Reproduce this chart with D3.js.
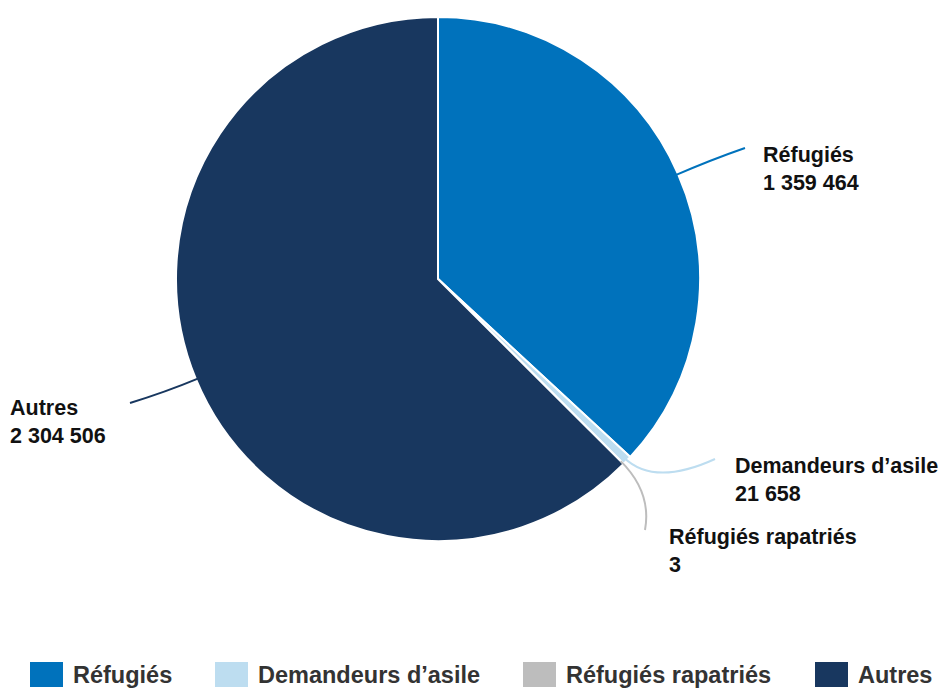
<html>
<head>
  <meta charset="utf-8">
  <script src="https://d3js.org/d3.v7.min.js"></script>
  <style>
    body { margin: 0; background: #fff; }
    text { font-family: "Liberation Sans", Arial, sans-serif; font-weight: bold; }
  </style>
</head>
<body>
<svg id="chart" width="946" height="690"></svg>
<script>
  // data
  var categories = ['Réfugiés', 'Demandeurs d\u2019asile', 'Réfugiés rapatriés', 'Autres'];
  var values = [1359464, 21658, 3, 2304506];
  var valueLabels = ['1 359 464', '21 658', '3', '2 304 506'];
  var colors = ['#0072BC', '#BDDDF0', '#BDBDBD', '#18375F'];

  // label placement (text anchor + end of leader line)
  var labelPos = [[763, 162], [735, 473], [669, 544], [10, 415]];
  var lineEnd = [[745, 148], [715, 459], [645, 530], [130, 403]];
  var bend = [35, 38, 40, 34];

  var svg = d3.select('#chart');
  var cx = 438, cy = 279, r = 262;

  var pie = d3.pie().sort(null).value(function(d) { return d; });
  var arcs = pie(values);
  var arc = d3.arc().innerRadius(0).outerRadius(r);

  var g = svg.append('g').attr('transform', 'translate(' + cx + ',' + cy + ')');

  g.selectAll('path.slice')
    .data(arcs)
    .enter()
    .append('path')
    .attr('class', 'slice')
    .attr('d', arc)
    .attr('fill', function(d, i) { return colors[i]; })
    .attr('stroke', '#fff')
    .attr('stroke-width', 2);

  // leader lines
  svg.selectAll('path.leader')
    .data(arcs)
    .enter()
    .append('path')
    .attr('class', 'leader')
    .attr('fill', 'none')
    .attr('stroke', function(d, i) { return colors[i]; })
    .attr('stroke-width', 2)
    .attr('d', function(d, i) {
      var a = (d.startAngle + d.endAngle) / 2;
      var ux = Math.sin(a), uy = -Math.cos(a);
      var x0 = cx + ux * (r - 4), y0 = cy + uy * (r - 4);
      var c1x = cx + ux * (r + bend[i]), c1y = cy + uy * (r + bend[i]);
      return 'M' + x0 + ',' + y0 + ' Q' + c1x + ',' + c1y + ' ' + lineEnd[i][0] + ',' + lineEnd[i][1];
    });

  var labels = svg.selectAll('text.lbl')
    .data(categories)
    .enter()
    .append('text')
    .attr('class', 'lbl')
    .attr('x', function(d, i) { return labelPos[i][0]; })
    .attr('y', function(d, i) { return labelPos[i][1]; })
    .attr('font-size', 21.5)
    .attr('fill', '#111');

  labels.append('tspan').text(function(d) { return d; });
  labels.append('tspan')
    .attr('x', function(d, i) { return labelPos[i][0]; })
    .attr('dy', 28)
    .text(function(d, i) { return valueLabels[i]; });

  // legend
  var legendX = [30, 215, 523, 815];
  var leg = svg.selectAll('g.leg')
    .data(categories)
    .enter()
    .append('g')
    .attr('class', 'leg')
    .attr('transform', function(d, i) { return 'translate(' + legendX[i] + ',662)'; });

  leg.append('rect')
    .attr('width', 33)
    .attr('height', 25)
    .attr('fill', function(d, i) { return colors[i]; });

  leg.append('text')
    .attr('x', 43)
    .attr('y', 21)
    .attr('font-size', 23.5)
    .attr('fill', '#333')
    .text(function(d) { return d; });
</script>
</body>
</html>
